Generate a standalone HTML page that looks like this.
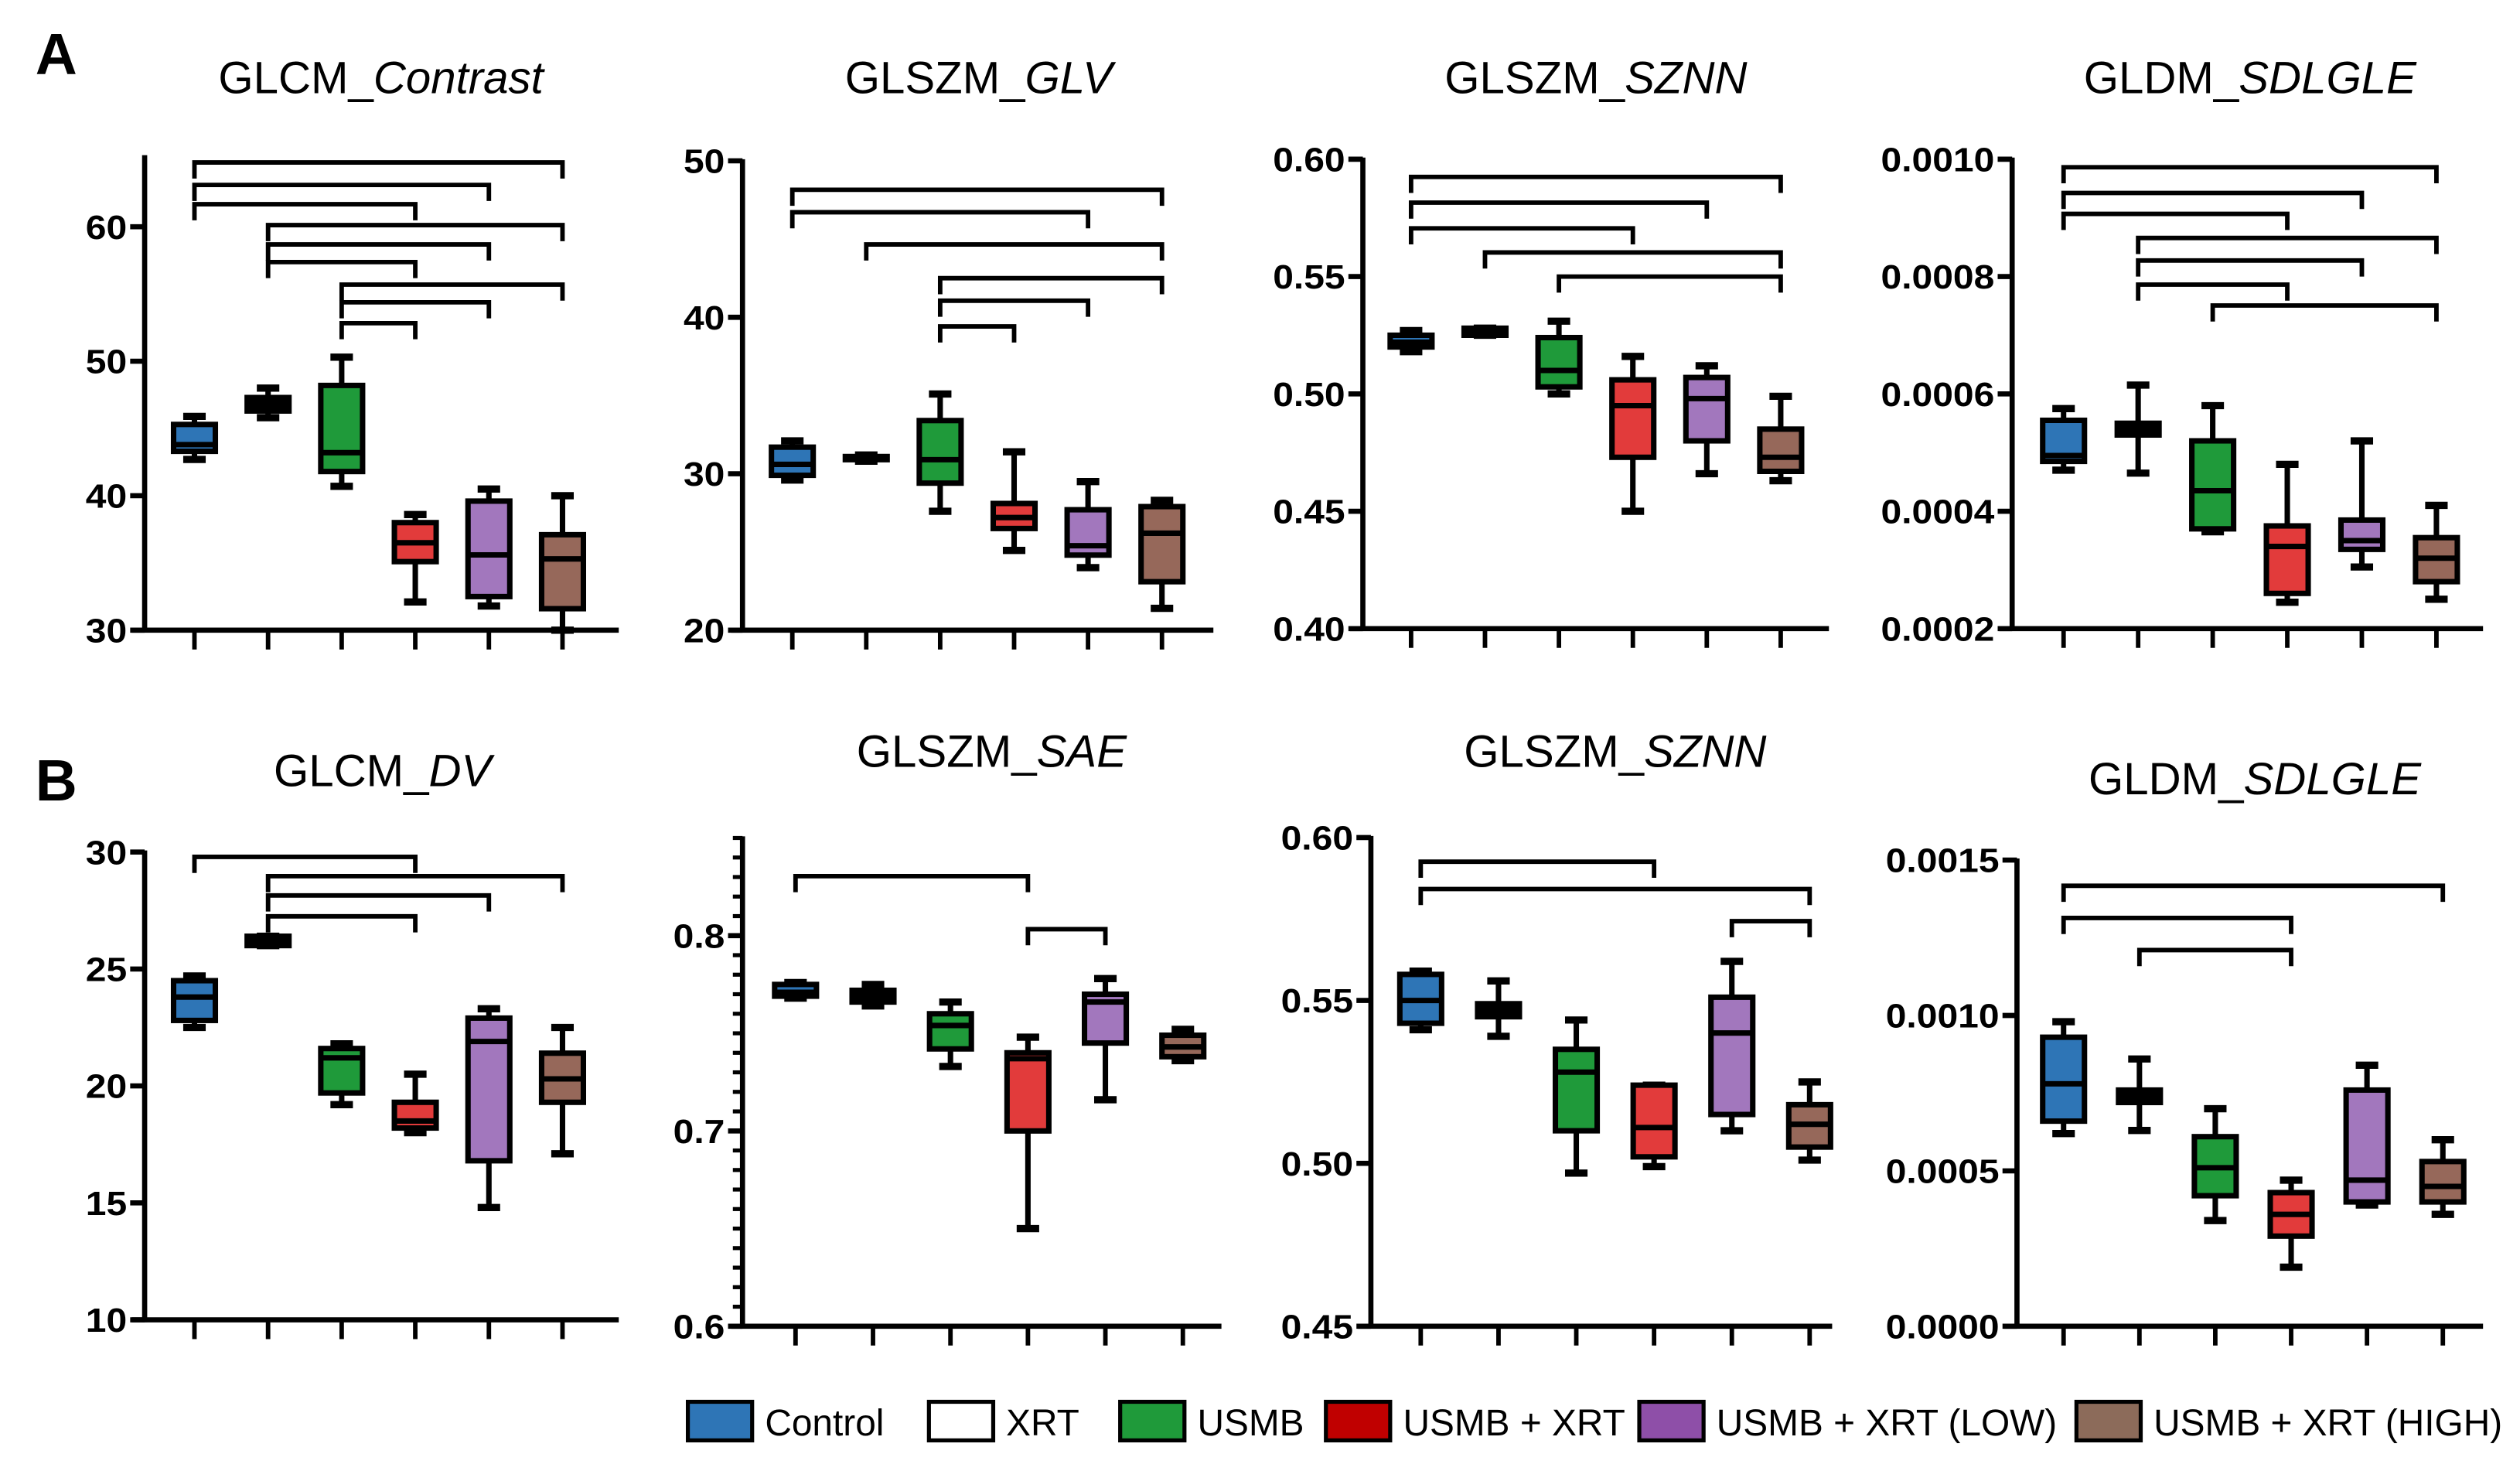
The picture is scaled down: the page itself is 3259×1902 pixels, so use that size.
<!DOCTYPE html>
<html><head><meta charset="utf-8"><style>
html,body{margin:0;padding:0;background:#fff;}
svg{display:block;}
text{font-family:"Liberation Sans",Arial,sans-serif;}
</style></head><body>
<svg id="fig" width="3259" height="1902" viewBox="0 0 1568 915" xmlns="http://www.w3.org/2000/svg">
<text x="22" y="46" font-size="36" font-weight="bold">A</text>
<text x="22" y="498" font-size="36" font-weight="bold">B</text>
<g id="legend"></g>
</svg>
<script>
const groups = ['Control','XRT','USMB','USMB + XRT','USMB + XRT (LOW)','USMB + XRT (HIGH)'];
const fills = ['#2e75b6','#ffffff','#1f9a3a','#e23b3b','#a277bd','#96685a'];
const legendFills = ['#2e75b6','#ffffff','#1f9a3a','#c00000','#8e4fa8','#8c6b5a'];

const a1Vals = [[42.7,43.3,43.8,45.3,45.9],[45.8,46.3,46.8,47.3,48.0],[40.7,41.8,43.2,48.2,50.3],[32.1,35.1,36.5,38.0,38.6],[31.8,32.5,35.6,39.6,40.5],[30.0,31.6,35.3,37.1,40.0]];
const a2Vals = [[29.6,29.9,30.6,31.7,32.1],[30.8,30.9,31.0,31.1,31.2],[27.6,29.4,30.9,33.4,35.1],[25.1,26.5,27.2,28.1,31.4],[24.0,24.8,25.4,27.7,29.5],[21.4,23.1,26.2,27.9,28.3]];
const a3Vals = [[0.518,0.520,0.522,0.525,0.527],[0.525,0.525,0.527,0.528,0.528],[0.500,0.503,0.510,0.524,0.531],[0.450,0.473,0.495,0.506,0.516],[0.466,0.480,0.498,0.507,0.512],[0.463,0.467,0.473,0.485,0.499]];
const a4Vals = [[0.000470,0.000485,0.000495,0.000555,0.000575],[0.000465,0.000530,0.000540,0.000550,0.000615],[0.000365,0.000370,0.000435,0.000520,0.000580],[0.000245,0.000260,0.000340,0.000375,0.000480],[0.000305,0.000335,0.000350,0.000385,0.000520],[0.000250,0.000280,0.000320,0.000355,0.000410]];
const b1Vals = [[22.5,22.8,23.8,24.5,24.7],[26.0,26.0,26.2,26.4,26.4],[19.2,19.7,21.2,21.6,21.8],[18.0,18.2,18.5,19.3,20.5],[14.8,16.8,21.9,22.9,23.3],[17.1,19.3,20.3,21.4,22.5]];
const b2Vals = [[0.768,0.769,0.771,0.775,0.776],[0.764,0.766,0.769,0.772,0.775],[0.733,0.742,0.754,0.760,0.766],[0.650,0.700,0.737,0.740,0.748],[0.716,0.745,0.766,0.770,0.778],[0.736,0.738,0.743,0.749,0.752]];
const b3Vals = [[0.541,0.543,0.550,0.558,0.559],[0.539,0.545,0.548,0.549,0.556],[0.497,0.510,0.528,0.535,0.544],[0.499,0.502,0.511,0.524,0.524],[0.510,0.515,0.540,0.551,0.562],[0.501,0.505,0.512,0.518,0.525]];
const b4Vals = [[0.00062,0.00066,0.00078,0.00093,0.00098],[0.00063,0.00072,0.00074,0.00076,0.00086],[0.00034,0.00042,0.00051,0.00061,0.00070],[0.00019,0.00029,0.00036,0.00043,0.00047],[0.00039,0.00040,0.00047,0.00076,0.00084],[0.00036,0.00040,0.00045,0.00053,0.00060]];

const a1Ticks = ['30','40','50','60'];
const a2Ticks = ['20','30','40','50'];
const a3Ticks = ['0.40','0.45','0.50','0.55','0.60'];
const a4Ticks = ['0.0002','0.0004','0.0006','0.0008','0.0010'];
const b1Ticks = ['10','15','20','25','30'];
const b2Ticks = ['0.6','0.7','0.8'];
const b3Ticks = ['0.45','0.50','0.55','0.60'];
const b4Ticks = ['0.0000','0.0005','0.0010','0.0015'];

const a1Sig = [[1,6],[1,5],[1,4],[2,6],[2,5],[2,4],[3,6],[3,5],[3,4]];
const a2Sig = [[1,6],[1,5],[2,6],[3,6],[3,5],[3,4]];
const a3Sig = [[1,6],[1,5],[1,4],[2,6],[3,6]];
const a4Sig = [[1,6],[1,5],[1,4],[2,6],[2,5],[2,4],[3,6]];
const b1Sig = [[1,4],[2,6],[2,5],[2,4]];
const b2Sig = [[1,4],[4,5]];
const b3Sig = [[1,4],[1,6],[5,6]];
const b4Sig = [[1,6],[1,4],[2,4]];

const NS='http://www.w3.org/2000/svg';
const svg=document.getElementById('fig');
function mk(tag,attrs,parent){const e=document.createElementNS(NS,tag);for(const k in attrs)e.setAttribute(k,attrs[k]);(parent||svg).appendChild(e);return e;}

const panels=[
 {id:'a1',pre:'GLCM_',it:'Contrast',tx:237,ty:58,vals:a1Vals,ticks:a1Ticks,dmin:30,dmax:60,axTopV:65.2,ax:90,y0:392,y1:141,xs:121,dx:45.8,xend:385,xstart:82,sig:a1Sig,sigY:101,sigStep:[0,14,26,39,51,62,76,87,100],minor:0},
 {id:'a2',pre:'GLSZM_',it:'GLV',tx:609,ty:58,vals:a2Vals,ticks:a2Ticks,dmin:20,dmax:50,axTopV:50,ax:462,y0:392,y1:100,xs:493,dx:46,xend:755,xstart:455,sig:a2Sig,sigY:118,sigStep:[0,14,34,55,69,85],minor:0},
 {id:'a3',pre:'GLSZM_',it:'SZNN',tx:993,ty:58,vals:a3Vals,ticks:a3Ticks,dmin:0.40,dmax:0.60,axTopV:0.60,ax:848,y0:391,y1:99,xs:878,dx:46,xend:1138,xstart:840,sig:a3Sig,sigY:110,sigStep:[0,16,32,47,62],minor:0},
 {id:'a4',pre:'GLDM_',it:'SDLGLE',tx:1400,ty:58,vals:a4Vals,ticks:a4Ticks,dmin:0.0002,dmax:0.0010,axTopV:0.0010,ax:1252,y0:391,y1:99,xs:1284,dx:46.4,xend:1545,xstart:1244,sig:a4Sig,sigY:104,sigStep:[0,16,29,44,58,73,86],minor:0},
 {id:'b1',pre:'GLCM_',it:'DV',tx:238,ty:489,vals:b1Vals,ticks:b1Ticks,dmin:10,dmax:30,axTopV:30,ax:90,y0:821,y1:530,xs:121,dx:45.8,xend:385,xstart:82,sig:b1Sig,sigY:533,sigStep:[0,12,24,37],minor:0},
 {id:'b2',pre:'GLSZM_',it:'SAE',tx:617,ty:477,vals:b2Vals,ticks:b2Ticks,dmin:0.6,dmax:0.8,axTopV:0.85,ax:462,y0:825,y1:582,xs:495,dx:48.2,xend:760,xstart:455,sig:b2Sig,sigY:545,sigStep:[0,33],minor:0.01},
 {id:'b3',pre:'GLSZM_',it:'SZNN',tx:1005,ty:477,vals:b3Vals,ticks:b3Ticks,dmin:0.45,dmax:0.60,axTopV:0.60,ax:853,y0:825,y1:521,xs:884,dx:48.4,xend:1140,xstart:845,sig:b3Sig,sigY:536,sigStep:[0,17,37],minor:0},
 {id:'b4',pre:'GLDM_',it:'SDLGLE',tx:1403,ty:494,vals:b4Vals,ticks:b4Ticks,dmin:0,dmax:0.0015,axTopV:0.0015,ax:1255,y0:825,y1:535,xs:1284,dx:47.2,xend:1545,xstart:1247,sig:b4Sig,sigY:551,sigStep:[0,20,40],minor:0}
];

panels.forEach(p=>{
  const g=mk('g',{});
  
  
  const yS=v=>p.y0-(v-p.dmin)/(p.dmax-p.dmin)*(p.y0-p.y1);
  const xS=i=>p.xs+i*p.dx;
  const t=mk('text',{x:p.tx,y:p.ty,'font-size':28,'text-anchor':'middle'},g);
  
  
  t.appendChild(document.createTextNode(p.pre));
  const ts=mk('tspan',{'font-style':'italic'},t); ts.textContent=p.it;
  const yTop=yS(p.axTopV);
  const ya=mk('line',{x1:p.ax,x2:p.ax,y1:yTop-1,y2:p.y0+1.5,stroke:'#000','stroke-width':3.2},g);
  
  
  const xa=mk('line',{x1:p.xstart,x2:p.xend,y1:p.y0,y2:p.y0,stroke:'#000','stroke-width':3.2},g);
  
  
  if(p.minor){
    for(let v=p.dmin;v<=p.axTopV+1e-9;v+=p.minor){
      mk('line',{x1:p.ax-6,x2:p.ax,y1:yS(v),y2:yS(v),stroke:'#000','stroke-width':2.5},g);
    }
  }
  p.ticks.forEach(lbl=>{
    const v=parseFloat(lbl); const y=yS(v);
    mk('line',{x1:p.ax-9,x2:p.ax,y1:y,y2:y,stroke:'#000','stroke-width':3.2},g);
    const tl=mk('text',{x:(p.ax-11)/1.1,y:y+7.5,'font-size':21,'font-weight':'bold','text-anchor':'end',transform:'scale(1.1,1)'},g);
    
    
    tl.textContent=lbl;
  });
  for(let i=0;i<6;i++){
    mk('line',{x1:xS(i),x2:xS(i),y1:p.y0,y2:p.y0+12,stroke:'#000','stroke-width':2.8},g);
  }
  p.sig.forEach((s,k)=>{
    const y=p.sigY+p.sigStep[k]; const xa1=xS(s[0]-1), xb=xS(s[1]-1);
    const b=mk('path',{d:`M${xa1},${y+10}V${y}H${xb}V${y+10}`,fill:'none',stroke:'#000','stroke-width':2.8},g);
    
    
  });
  p.vals.forEach((d,i)=>{
    const x=xS(i), w=26, cw=14;
    const bg=mk('g',{},g);
    
    
    mk('line',{x1:x,x2:x,y1:yS(d[0]),y2:yS(d[4]),stroke:'#000','stroke-width':3.4},bg);
    mk('line',{x1:x-cw/2,x2:x+cw/2,y1:yS(d[0]),y2:yS(d[0]),stroke:'#000','stroke-width':4.5},bg);
    mk('line',{x1:x-cw/2,x2:x+cw/2,y1:yS(d[4]),y2:yS(d[4]),stroke:'#000','stroke-width':4.5},bg);
    const h=Math.max(yS(d[1])-yS(d[3]),1);
    mk('rect',{x:x-w/2,y:yS(d[3]),width:w,height:h,fill:i==1?'#000':fills[i],stroke:'#000','stroke-width':3.4},bg);
    mk('line',{x1:x-w/2,x2:x+w/2,y1:yS(d[2]),y2:yS(d[2]),stroke:'#000','stroke-width':3.4},bg);
  });
});

const lg=document.getElementById('legend');
const lx=[428,578,697,825,1020,1292];
groups.forEach((n,i)=>{
  const r=mk('rect',{x:lx[i],y:872,width:40,height:24,fill:legendFills[i],stroke:'#000','stroke-width':2.5},lg);
  
  
  const t=mk('text',{x:lx[i]+48,y:893,'font-size':23},lg);
  
  
  t.textContent=n;
});
</script>
</body></html>
